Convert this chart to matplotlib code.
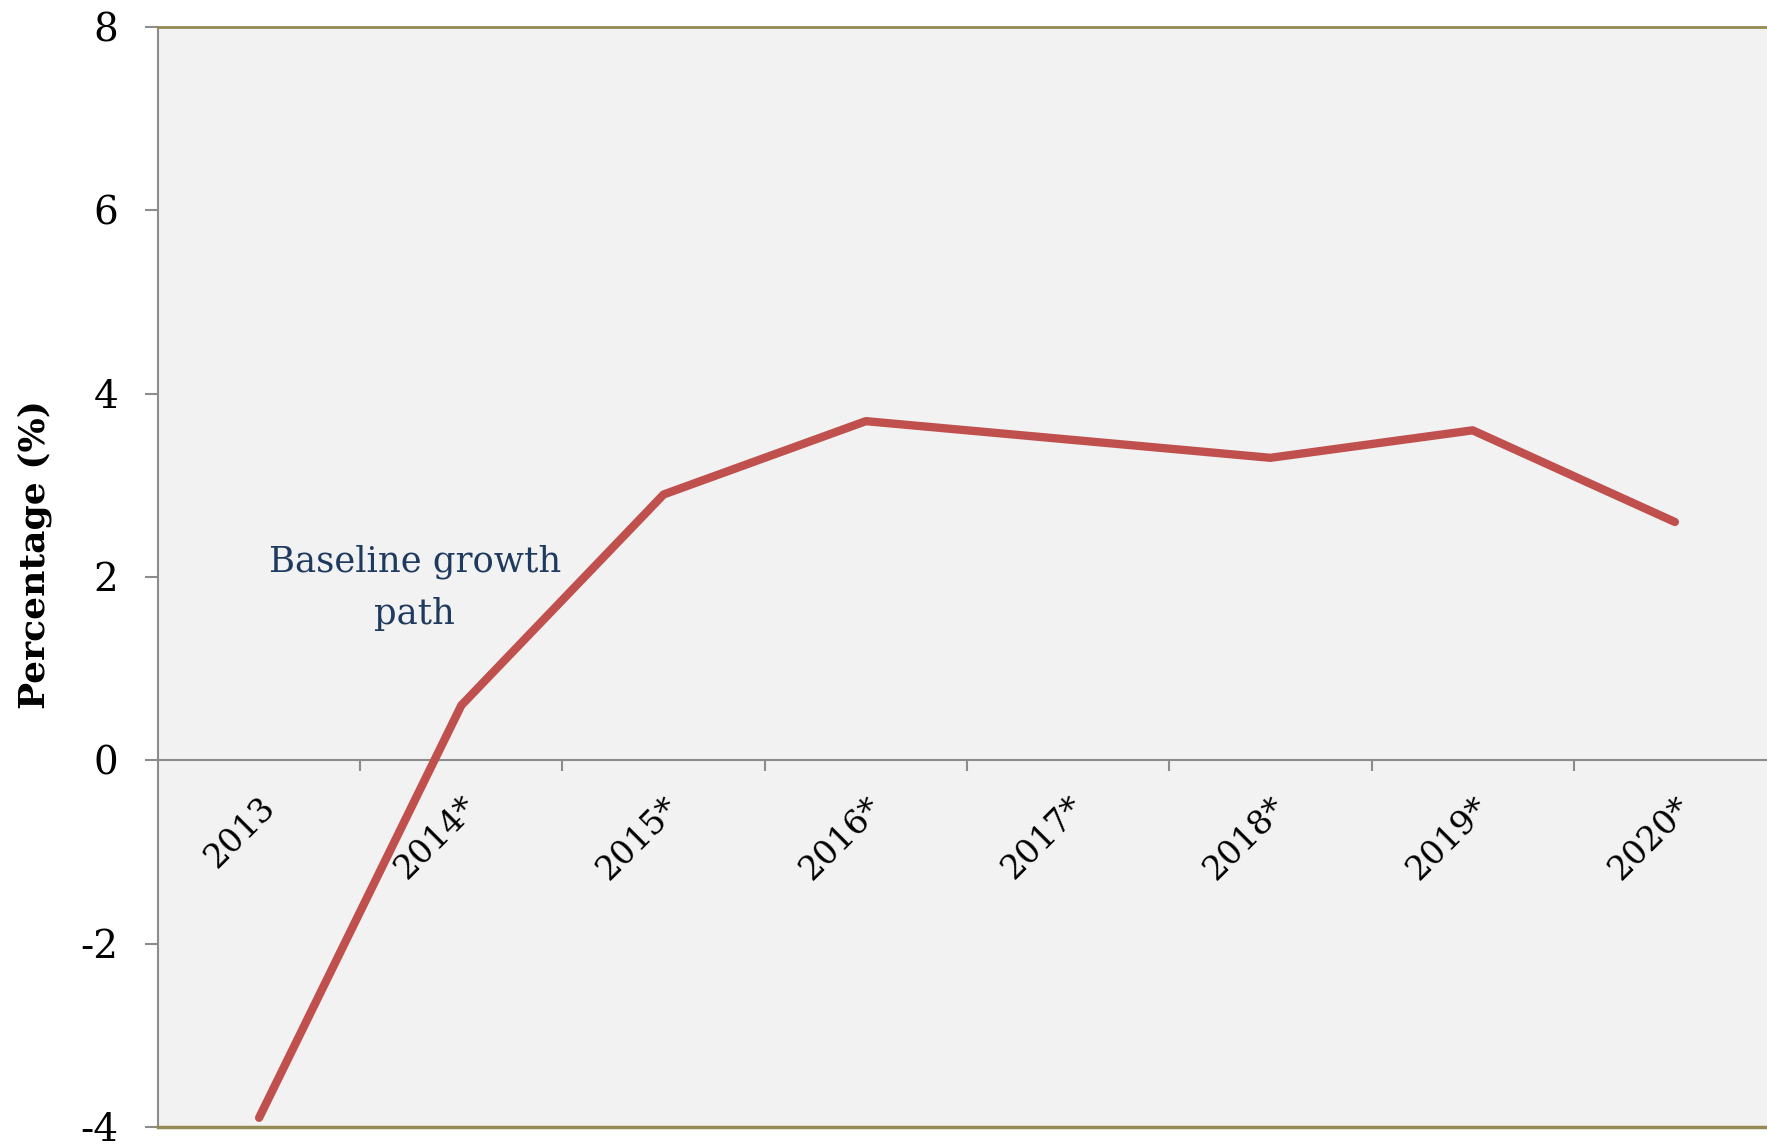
import matplotlib
matplotlib.use("Agg")
import matplotlib.pyplot as plt

# Projected real GDP growth, baseline path
anos = ["2013", "2014*", "2015*", "2016*", "2017*", "2018*", "2019*", "2020*"]
crescimento = [-3.9, 0.6, 2.9, 3.7, 3.5, 3.3, 3.6, 2.6]
ticks_y = [-4, -2, 0, 2, 4, 6, 8]

fonte = ['DejaVu Serif']
plt.rcParams['font.family'] = fonte

fig = plt.figure(figsize=(17.67, 11.44), dpi=100)
ax = fig.add_axes([0.0894, 0.0149, 0.9157, 0.9615])
ax.set_facecolor("#F2F2F2")

x = list(range(len(anos)))
ax.plot(x, crescimento, color="#C0504D", linewidth=6,
        solid_capstyle="round", solid_joinstyle="round", zorder=3)

ax.set_xlim(-0.5, len(anos) - 0.5)
ax.set_ylim(ticks_y[0], ticks_y[-1])

# eixo x na linha do zero, bordas de cima e de baixo em oliva
cinza = "#8C8C8C"
oliva = "#948A54"
ax.spines['bottom'].set_position(('data', 0))
ax.spines['bottom'].set_color(cinza)
ax.spines['bottom'].set_linewidth(1.5)
ax.spines['left'].set_color(cinza)
ax.spines['left'].set_linewidth(1.5)
ax.spines['top'].set_color(oliva)
ax.spines['top'].set_linewidth(2)
ax.spines['right'].set_visible(False)
ax.axhline(ticks_y[0], color=oliva, linewidth=2.5, clip_on=False, zorder=4)

# marcas entre categorias, rótulos no centro
ax.set_xticks([i + 0.5 for i in x[:-1]])
ax.set_xticklabels([])
ax.set_xticks(x, minor=True)
ax.set_xticklabels(anos, minor=True, rotation=45, ha="right", va="top",
                   rotation_mode="anchor", fontsize=24)
for rotulo in ax.get_xminorticklabels():
    rotulo.set_fontfamily(fonte)
ax.tick_params(axis="x", which="major", direction="out", length=8,
               width=1.5, color=cinza)
ax.tick_params(axis="x", which="minor", length=0, pad=22)

ax.set_yticks(ticks_y)
ax.set_yticklabels([str(v) for v in ticks_y], fontsize=28)
ax.tick_params(axis="y", direction="out", length=9.5, width=1.5,
               color=cinza, pad=19)

ax.set_ylabel("Percentage (%)", fontsize=26, fontweight="bold")
ax.yaxis.set_label_coords(-0.0655, 0.52)

ax.text(0.77, 1.88, "Baseline growth\npath", ha="center", va="center",
        fontsize=25.5, color="#1F3A5F", linespacing=1.65)

fig.savefig("out.png", dpi=100)
